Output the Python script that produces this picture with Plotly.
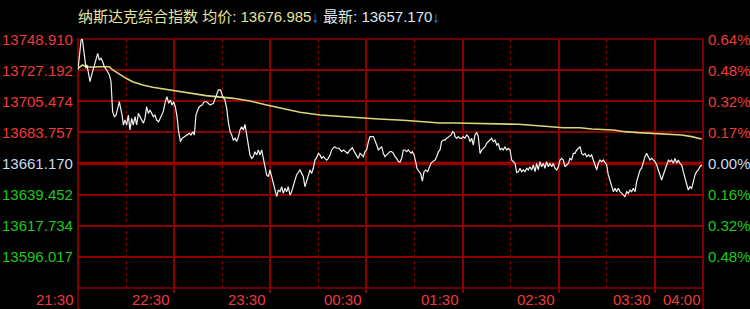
import plotly.graph_objects as go

# ---------------- data ----------------
prev_close = 13661.17
step = 21.935  # price step between horizontal grid lines

left_labels = ["13748.910", "13727.192", "13705.474", "13683.757", "13661.170",
               "13639.452", "13617.734", "13596.017"]
right_labels = ["0.64%", "0.48%", "0.32%", "0.17%", "0.00%", "0.16%", "0.32%", "0.48%"]

time_labels = ["21:30", "22:30", "23:30", "00:30", "01:30", "02:30", "03:30", "04:00"]
time_label_pos = [0, 60, 120, 180, 240, 300, 360, 390]   # minutes since 21:30
hour_lines = [60, 120, 180, 240, 300, 360]
half_hour_lines = [30, 90, 150, 210, 270, 330]

price_min = [
    0, 1.9, 2.7, 3.3, 4.4, 5.0, 5.6, 6.7, 7.5, 8.5, 10.2, 11.2, 12.3, 13.3, 14.4, 15.4, 16.4, 17.9,
    19.6, 20.6, 21.2, 21.6, 22.7, 23.7, 24.8, 25.8, 26.4, 27.5, 28.3, 29.3, 30.4, 31.4, 32.4, 33.5,
    34.5, 35.6, 36.6, 37.7, 38.7, 39.7, 40.8, 41.8, 42.8, 43.9, 44.9, 46.0, 47.0, 48.0, 49.1, 50.3,
    51.8, 53.2, 54.5, 55.5, 56.6, 57.6, 58.7, 59.7, 60.7, 61.8, 62.8, 63.9, 64.9, 66.4, 68.0, 69.5,
    70.5, 71.6, 72.6, 73.6, 74.7, 75.7, 77.4, 78.8,
    80.3, 82.4, 84.5, 86.1, 87.6, 89.0, 90.3, 91.7, 92.8, 93.8, 94.9, 95.9, 96.9, 98.0, 99.0, 100.1,
    101.1, 102.1, 103.2, 104.2, 105.3, 106.3, 107.3, 108.4, 109.4, 110.4, 111.5, 112.5, 113.6, 114.6,
    115.6, 116.7, 117.7, 118.8, 119.8, 120.8, 121.9, 122.9, 124.0, 125.0, 126.1, 127.1, 128.1, 129.2,
    130.2, 131.2, 132.3, 133.3, 134.4, 135.4, 136.4, 137.5, 138.5, 139.6, 140.6, 141.6, 142.7, 143.7,
    144.8, 145.8, 146.8, 147.9, 148.9, 150.0, 151.0, 152.0, 153.1, 154.1, 155.2, 156.2,
    157.3, 158.3, 160.0, 161.4, 162.9, 164.5, 165.6, 167.0, 168.3, 169.7, 171.2, 172.4, 173.9, 174.9,
    176.0, 177.0, 178.1, 179.1, 180.1, 181.2, 182.2, 184.3, 185.3, 186.4, 187.4, 188.4, 189.5, 190.5,
    191.6, 192.6, 193.6, 194.7, 195.7, 196.8, 197.8, 198.8, 199.9, 200.9, 202.0, 203.0, 204.0, 205.1,
    206.1, 207.8, 208.6, 209.7, 210.7, 211.5, 212.8, 213.8, 214.9, 215.9, 217.0, 218.2, 219.0, 220.3,
    221.3, 222.8, 223.8, 224.9, 225.9, 226.9, 228.0, 229.0, 230.1, 231.5, 232.8, 233.8, 234.8,
    235.3, 236.3, 237.3, 238.4, 239.4, 240.4, 241.5, 242.5, 243.6, 244.6, 245.7, 246.7, 247.7, 248.8,
    249.8, 250.9, 251.9, 252.9, 254.0, 255.0, 256.0, 257.1, 258.1, 259.2, 260.2, 261.3, 262.3, 263.3,
    264.4, 265.4, 266.4, 267.5, 268.5, 269.6, 270.6, 271.6, 272.7, 273.7, 274.8, 275.8, 276.8, 277.9,
    278.9, 280.0, 281.0, 282.0, 283.1, 284.1, 285.2, 286.2, 287.2, 288.3, 289.3, 290.4, 291.4, 292.4,
    293.5, 294.5, 295.6, 296.6, 297.6, 298.7, 299.7, 300.8, 301.8, 302.8, 303.9, 304.9, 306.0, 307.0,
    308.0, 309.1, 310.1, 311.2, 312.2,
    313.3, 314.3, 315.3, 316.4, 317.4, 318.5, 319.5, 320.5, 321.6, 322.6, 323.7, 324.7, 325.7, 326.8,
    327.8, 328.9, 329.9, 330.9, 332.0, 333.0, 334.1, 335.1, 336.1, 337.2, 338.2, 339.3, 340.3, 341.3,
    342.4, 343.4, 344.5, 345.5, 346.5, 347.6, 348.6, 349.6, 350.7, 351.7, 352.8, 353.8, 354.8, 355.9,
    356.9, 358.0, 359.0, 360.0, 361.1, 362.1, 363.2, 364.2, 365.2, 366.3, 367.3, 368.4, 369.4, 370.4,
    371.5, 372.5, 373.6, 374.6, 375.6, 376.7, 377.7, 378.8, 379.8, 380.8, 381.9, 382.9, 384.0, 385.0,
    386.0, 387.1, 388.1, 389.2,
]

price_val = [
    13727.1, 13748.2, 13748.9, 13742.3, 13735.3, 13728.2, 13730.6, 13722.4, 13718.8, 13723.5, 13730.6,
    13734.1, 13738.8, 13734.1, 13735.3, 13732.9, 13729.4, 13727.1, 13723.5, 13718.8, 13709.4, 13697.7,
    13694.2, 13695.3, 13700.0, 13704.7, 13701.2, 13695.3, 13688.3, 13691.8, 13688.3, 13695.3, 13684.8,
    13693.0, 13688.3, 13694.2, 13688.3, 13696.5, 13694.2, 13691.8, 13689.5, 13693.0, 13701.2, 13696.5,
    13698.9, 13696.5, 13694.2, 13695.3, 13691.8, 13690.6, 13694.2, 13697.7, 13704.7, 13708.3, 13703.6,
    13705.9, 13702.4, 13704.7, 13701.2, 13694.2, 13683.6, 13676.6, 13678.9, 13680.1, 13681.3, 13682.4,
    13681.3, 13683.6, 13681.3, 13695.3, 13698.9, 13701.2, 13702.4, 13704.7,
    13704.7, 13702.4, 13703.6, 13708.3, 13713.0, 13713.0, 13708.3, 13705.9, 13700.0, 13690.6, 13683.6,
    13681.3, 13677.7, 13678.9, 13676.6, 13680.1, 13684.8, 13687.1, 13684.8, 13688.8, 13681.3, 13671.9,
    13667.2, 13664.8, 13666.0, 13669.5, 13667.2, 13670.7, 13667.2, 13670.7, 13663.6, 13658.9, 13653.1,
    13651.9, 13656.6, 13651.9, 13648.4, 13643.7, 13637.8, 13642.5, 13641.3, 13644.8, 13640.1, 13643.7,
    13641.3, 13644.8, 13638.9, 13641.3, 13644.8, 13649.5, 13653.1, 13655.4, 13656.6, 13654.2, 13651.9,
    13644.8, 13648.4, 13653.1, 13656.6, 13654.2, 13657.8, 13663.6, 13665.3, 13668.3, 13667.2, 13664.8,
    13666.0, 13664.8, 13663.6, 13664.8,
    13667.2, 13670.7, 13673.0, 13671.9, 13671.9, 13669.5, 13670.7, 13669.5, 13668.3, 13670.7, 13672.3,
    13669.5, 13667.2, 13664.8, 13668.3, 13667.2, 13666.0, 13669.5, 13670.7, 13676.6, 13680.1, 13680.1,
    13677.7, 13674.2, 13670.7, 13671.9, 13673.0, 13668.3, 13666.0, 13667.2, 13668.3, 13669.5, 13669.5,
    13668.3, 13666.0, 13664.8, 13662.5, 13662.0, 13664.8, 13670.7, 13670.7, 13669.5, 13670.7, 13668.3,
    13669.5, 13667.2, 13662.5, 13657.8, 13655.4, 13654.2, 13648.8, 13655.4, 13656.6, 13655.4, 13657.8,
    13661.3, 13662.5, 13663.6, 13666.0, 13669.5, 13670.7, 13676.6, 13677.7, 13677.7, 13678.9, 13680.1,
    13681.3, 13683.6, 13682.4,
    13680.1, 13678.9, 13680.1, 13678.9, 13678.9, 13680.1, 13678.9, 13681.3, 13680.1, 13676.6, 13678.9,
    13674.2, 13681.3, 13683.1, 13680.1, 13668.3, 13670.7, 13671.9, 13673.0, 13675.4, 13676.6, 13677.7,
    13678.9, 13676.6, 13677.7, 13674.2, 13675.4, 13670.7, 13671.9, 13670.7, 13673.0, 13670.7, 13671.9,
    13670.7, 13663.6, 13662.5, 13661.3, 13654.9, 13655.4, 13657.8, 13655.4, 13656.6, 13655.4, 13657.8,
    13656.6, 13658.9, 13656.6, 13660.1, 13655.4, 13661.3, 13656.6, 13662.5, 13658.9, 13661.3, 13657.8,
    13662.5, 13658.9, 13661.3, 13658.9, 13661.3, 13657.8, 13656.6, 13658.9, 13663.6, 13664.8, 13663.6,
    13658.9, 13660.1, 13661.3, 13664.8, 13663.6, 13668.3, 13668.3, 13670.7, 13671.9,
    13673.0, 13668.3, 13667.2, 13668.3, 13666.0, 13667.2, 13666.0, 13667.2, 13662.5, 13660.1, 13656.6,
    13661.3, 13663.6, 13662.5, 13663.6, 13661.3, 13660.1, 13653.1, 13648.4, 13646.0, 13641.3, 13643.7,
    13641.3, 13643.7, 13641.3, 13640.1, 13638.9, 13637.8, 13641.3, 13640.1, 13642.5, 13641.3, 13643.7,
    13641.3, 13648.4, 13653.1, 13656.6, 13657.8, 13662.5, 13666.0, 13668.3, 13666.0, 13663.6, 13664.8,
    13663.6, 13662.5, 13660.1, 13656.6, 13651.9, 13649.5, 13653.1, 13656.6, 13658.9, 13663.6, 13662.5,
    13663.6, 13661.3, 13664.8, 13661.3, 13663.6, 13661.3, 13660.1, 13655.4, 13650.7, 13646.0, 13642.5,
    13644.8, 13643.7, 13648.4, 13653.1, 13655.4, 13656.6, 13658.9, 13660.1,
]

avg_min = [0, 2.9, 5.0, 9.2, 13.3, 19.5, 21.7, 25.8, 30.0, 34.1, 40.4, 46.6, 52.8, 59.1, 65.3, 71.6,
           79.9, 96.9, 107.3, 117.7, 128.1, 138.5, 151.0, 160.4, 171.8, 187.4, 203.0, 214.5, 225.9,
           235.2, 252.9, 274.7, 289.3, 302.8, 313.2, 320.6, 334.0, 341.3, 349.6, 363.2, 376.7, 382.9,
           389.2]
avg_val = [13728.3, 13730.6, 13729.4, 13729.0, 13729.4, 13729.4, 13727.1, 13724.0, 13721.2, 13718.8,
           13716.5, 13714.9, 13713.7, 13712.5, 13711.8, 13710.2, 13709.0, 13707.1, 13705.2, 13702.4,
           13699.6, 13697.3, 13695.4, 13694.6, 13693.5, 13692.5, 13691.6, 13690.6, 13689.7, 13689.7,
           13689.5, 13688.8, 13687.6, 13686.4, 13686.4, 13685.5, 13684.8, 13683.6, 13682.9, 13682.0,
           13681.3, 13680.1, 13678.4]

# ---------------- styling ----------------
GRID = "#8c0000"
RED = "#ee3a3a"
GREEN = "#1ec81e"
ZERO_TXT = "#c8dcf0"
FONT = "Liberation Sans, Arial, Noto Sans CJK SC"

levels = [prev_close + step * k for k in range(4, -4, -1)]
y_lo = prev_close - 4 * step
y_hi = prev_close + 4 * step

fig = go.Figure()
fig.add_trace(go.Scatter(x=avg_min, y=avg_val, mode="lines",
                         line=dict(color="#d8d878", width=1.6), hoverinfo="skip"))
fig.add_trace(go.Scatter(x=price_min, y=price_val, mode="lines",
                         line=dict(color="#f2f2f2", width=1.2), hoverinfo="skip"))

shapes = []
# zero (previous close) line
shapes.append(dict(type="line", xref="paper", yref="y", x0=0, x1=1, y0=prev_close, y1=prev_close,
                   line=dict(color="#a00000", width=3.5), layer="below"))
# frame
shapes.append(dict(type="rect", xref="paper", yref="paper", x0=0, x1=1, y0=0, y1=1,
                   line=dict(color=GRID, width=1.5), layer="below"))
# left / right borders extend to the bottom
for xp in (0, 1):
    shapes.append(dict(type="line", xref="paper", yref="paper", x0=xp, x1=xp, y0=-0.09, y1=1,
                       line=dict(color=GRID, width=1.5), layer="below"))

annotations = []
for i, (lv, lt, rt) in enumerate(zip(levels, left_labels, right_labels)):
    if i < 4:
        col = RED
    elif i == 4:
        col = ZERO_TXT
    else:
        col = GREEN
    annotations.append(dict(xref="paper", yref="y", x=0, y=lv, text=lt, showarrow=False,
                            xanchor="right", yanchor="middle", xshift=-3,
                            font=dict(family=FONT, size=15, color=col)))
    annotations.append(dict(xref="paper", yref="y", x=1, y=lv, text=rt, showarrow=False,
                            xanchor="left", yanchor="middle", xshift=3,
                            font=dict(family=FONT, size=15, color=col)))

for pos, lab in zip(time_label_pos, time_labels):
    annotations.append(dict(xref="x", yref="paper", x=pos, y=0, text=lab, showarrow=False,
                            xanchor="right", yanchor="top", xshift=-2 if pos < 390 else 0, yshift=-1,
                            font=dict(family=FONT, size=15, color=RED)))

title = ('<span style="color:#e4e49c">纳斯达克综合指数 均价: 13676.985</span>'
         '<span style="color:#1ea0dc">↓</span>'
         '<span style="color:#dce6f2"> 最新: 13657.170</span>'
         '<span style="color:#1ea0dc">↓</span>')
annotations.append(dict(xref="paper", yref="paper", x=0, y=1.092, text=title, showarrow=False,
                        xanchor="left", yanchor="middle", xshift=-2,
                        font=dict(family=FONT, size=15, color="#e4e49c")))

fig.update_layout(
    width=750, height=309,
    margin=dict(l=78, r=47, t=39, b=21, pad=0),
    paper_bgcolor="black", plot_bgcolor="black",
    showlegend=False,
    shapes=shapes, annotations=annotations,
    xaxis=dict(range=[0, 390], tickvals=hour_lines, showticklabels=False,
               showgrid=True, gridcolor=GRID, gridwidth=1.5, zeroline=False,
               ticks="outside", ticklen=4, tickcolor=GRID, tickwidth=1.5,
               minor=dict(tickvals=half_hour_lines, showgrid=True, gridcolor=GRID,
                          griddash="dot", gridwidth=1, ticks=""),
               showline=False, fixedrange=True),
    yaxis=dict(range=[y_lo, y_hi], tickvals=levels, showticklabels=False,
               showgrid=True, gridcolor=GRID, gridwidth=1.5, zeroline=False,
               showline=False, fixedrange=True),
)

fig.write_html("out.html", config={"displayModeBar": False})
